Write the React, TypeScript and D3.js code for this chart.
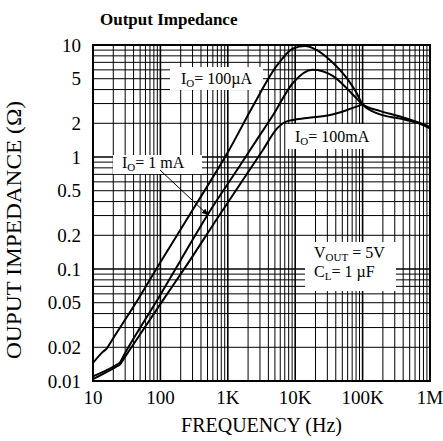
import React from "react";
import * as d3 from "d3";

const freqTicks = [10, 100, 1000, 10000, 100000, 1000000];
const freqTickLabels = ["10", "100", "1K", "10K", "100K", "1M"];
const zTicks = [10, 5, 2, 1, 0.5, 0.2, 0.1, 0.05, 0.02, 0.01];
const zTickLabels = ["10", "5", "2", "1", "0.5", "0.2", "0.1", "0.05", "0.02", "0.01"];

// [frequency Hz, impedance ohm]
const io100uA: [number, number][] = [
  [10, 0.0145], [14, 0.0182], [16, 0.0195], [19, 0.023], [47, 0.054], [100, 0.115], [350, 0.39], [1000, 1.1],
  [2400, 2.9], [5400, 6.6], [9300, 9.3], [14000, 9.8], [21000, 9.0], [33000, 7.3], [59000, 5.0],
  [80000, 3.8], [100000, 2.95], [165000, 2.45], [360000, 2.2], [710000, 1.98], [1000000, 1.8],
];
const io1mA: [number, number][] = [
  [10, 0.011], [22, 0.0139], [25, 0.0146], [29, 0.0172], [95, 0.056], [200, 0.12], [510, 0.31], [1500, 0.83],
  [2600, 1.38], [4700, 2.37], [9300, 4.6], [18000, 6.0], [36000, 5.3], [72000, 3.6],
  [100000, 2.95], [180000, 2.58], [360000, 2.3], [900000, 1.9], [1000000, 1.85],
];
const io100mA: [number, number][] = [
  [10, 0.0104], [22, 0.0134], [25, 0.014], [29, 0.016], [110, 0.053], [250, 0.11], [716, 0.29], [3300, 1.15],
  [5400, 1.8], [7500, 2.08], [15000, 2.23], [33000, 2.37], [59000, 2.63], [100000, 2.95],
];

const W = 443, H = 441;
const L = 93, R = 430, T = 45, B = 381;
const serif = "'Liberation Serif', 'Times New Roman', serif";

export default function App() {
  const x = d3.scaleLog().domain([10, 1e6]).range([L, R]);
  const y = d3.scaleLog().domain([0.01, 10]).range([B, T]);
  const line = d3
    .line<[number, number]>()
    .x((d) => x(d[0]))
    .y((d) => y(d[1]))
    .curve(d3.curveMonotoneX);

  const vLines: { v: number; major: boolean }[] = [];
  for (let dec = 10; dec < 1e6; dec *= 10) {
    for (let m = 1; m <= 9; m++) vLines.push({ v: dec * m, major: m === 1 });
  }
  vLines.push({ v: 1e6, major: true });
  const hLines: { v: number; major: boolean }[] = [];
  for (let dec = 0.01; dec < 10 - 1e-9; dec *= 10) {
    for (let m = 1; m <= 9; m++) hLines.push({ v: dec * m, major: m === 1 });
  }
  hLines.push({ v: 10, major: true });

  const boxes = [
    { x: 170, y: 67, w: 93, h: 23 },
    { x: 286, y: 124, w: 94, h: 25 },
    { x: 113, y: 155, w: 89, h: 19 },
    { x: 305, y: 242, w: 91, h: 49 },
  ];

  return (
    <svg width={W} height={H} style={{ position: "absolute", left: 0, top: 0, background: "#fff" }}>
      <rect x={0} y={0} width={W} height={H} fill="#fff" />
      <text x={100} y={25} fontFamily={serif} fontWeight="bold" fontSize={17}>Output Impedance</text>
      <g stroke="#000">
        {vLines.map((d, i) => (
          <line key={"v" + i} x1={x(d.v)} x2={x(d.v)} y1={T} y2={B} strokeWidth={d.major ? 1.6 : 1} />
        ))}
        {hLines.map((d, i) => (
          <line key={"h" + i} x1={L} x2={R} y1={y(d.v)} y2={y(d.v)} strokeWidth={d.major ? 1.6 : 1} />
        ))}
      </g>
      {boxes.map((b, i) => (
        <rect key={"b" + i} x={b.x} y={b.y} width={b.w} height={b.h} fill="#fff" />
      ))}
      <rect x={L} y={T} width={R - L} height={B - T} fill="none" stroke="#000" strokeWidth={2} />
      <g fill="none" stroke="#000" strokeWidth={2}>
        <path d={line(io100uA) || ""} />
        <path d={line(io1mA) || ""} />
        <path d={line(io100mA) || ""} />
      </g>
      <defs>
        <marker id="arr" viewBox="0 0 10 10" refX={9} refY={5} markerWidth={7} markerHeight={7} orient="auto">
          <path d="M0,1 L10,5 L0,9 Z" fill="#000" />
        </marker>
      </defs>
      <line x1={160} y1={170} x2={208} y2={215} stroke="#000" strokeWidth={1} markerEnd="url(#arr)" />
      <g fontFamily={serif} fontSize={16} fill="#000">
        <text x={181} y={84}>I<tspan fontSize={11} dy={3}>O</tspan><tspan dy={-3}>= 100µA</tspan></text>
        <text x={295} y={142}>I<tspan fontSize={11} dy={3}>O</tspan><tspan dy={-3}>= 100mA</tspan></text>
        <text x={122} y={168}>I<tspan fontSize={11} dy={3}>O</tspan><tspan dy={-3}>= 1 mA</tspan></text>
        <text x={314} y={258}>V<tspan fontSize={11} dy={3}>OUT</tspan><tspan dy={-3}> = 5V</tspan></text>
        <text x={314} y={277}>C<tspan fontSize={11} dy={3}>L</tspan><tspan dy={-3}>= 1 µF</tspan></text>
      </g>
      <g fontFamily={serif} fontSize={19} fill="#000">
        {freqTicks.map((f, i) => (
          <text key={"xt" + i} x={x(f)} y={404} textAnchor="middle">{freqTickLabels[i]}</text>
        ))}
        {zTicks.map((z, i) => (
          <text key={"yt" + i} x={81} y={y(z)} dy="0.35em" textAnchor="end">{zTickLabels[i]}</text>
        ))}
      </g>
      <g fontFamily={serif} fontSize={20} fill="#000">
        <text x={(L + R) / 2} y={432} textAnchor="middle">FREQUENCY (Hz)</text>
        <text transform={`translate(21, 230) rotate(-90)`} textAnchor="middle" fontSize={21}
          textLength={258} lengthAdjust="spacingAndGlyphs">OUPUT IMPEDANCE (Ω)</text>
      </g>
    </svg>
  );
}
